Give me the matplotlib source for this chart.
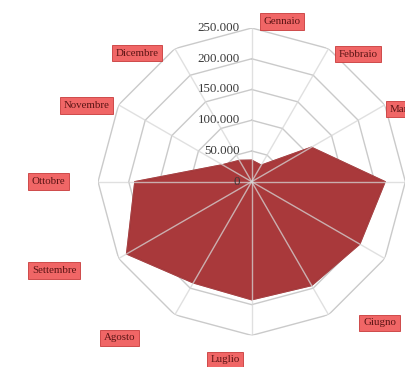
import numpy as np
import matplotlib
matplotlib.use("Agg")
import matplotlib.pyplot as plt
from matplotlib.transforms import offset_copy

# Monthly totals (thousands)
months = ["Gennaio", "Febbraio", "Marzo", "Aprile", "Maggio", "Giugno",
          "Luglio", "Agosto", "Settembre", "Ottobre", "Novembre", "Dicembre"]
values = [35, 31, 112, 217, 203, 195, 192, 190, 235, 190, 55, 40]

ring_levels = [0, 50, 100, 150, 200, 250]
ring_labels = ["0", "50.000", "100.000", "150.000", "200.000", "250.000"]

# Where each month label sits around the web (angle in degrees, radius)
label_pos = [(10.7, 265), (39.8, 270), (64.5, 274), (90, 330), (116, 370),
             (137.8, 310), (188.5, 293), (220.3, 333), (245.7, 352),
             (270, 331), (294.8, 296), (318.3, 280)]

serif = ["Liberation Serif", "DejaVu Serif"]

fig = plt.figure(figsize=(4.06, 3.67), dpi=100)
fig.patch.set_facecolor("white")
ax = fig.add_axes([0.2414, 0.0861, 0.7571, 0.8376], projection="polar")
ax.set_theta_zero_location("N")
ax.set_theta_direction(-1)
ax.set_ylim(0, 250)
ax.grid(False)
ax.set_xticks([])
ax.set_yticks([])
ax.spines["polar"].set_visible(False)
ax.patch.set_alpha(0)

n = len(months)
theta = np.arange(n) * 2 * np.pi / n
theta_c = np.append(theta, theta[0])

# Polygonal rings
for lev in ring_levels[1:]:
    ax.plot(theta_c, [lev] * (n + 1), color="#cacaca", lw=1.0, zorder=1)

# Filled series
vals_c = np.append(values, values[0])
ax.fill(theta_c, vals_c, facecolor="#a9393b", edgecolor="#8c2a2c",
        lw=1.0, zorder=2)
ax.plot(theta_c, vals_c, color="#c25456", lw=0.8, alpha=0.6, zorder=3)

# Spokes
for t in theta:
    ax.plot([t, t], [0, 250], color="#d6d6d6", lw=1.0, alpha=0.75, zorder=4)

# Value axis labels along the first spoke
tick_tr = offset_copy(ax.transData, fig=fig, x=-12, y=0, units="dots")
for lev, lab in zip(ring_levels, ring_labels):
    ax.text(0, lev, lab, transform=tick_tr, ha="right", va="center",
            fontsize=9.4, family=serif, color="#3a3a3a", zorder=5)

# Month labels in boxes
for name, (ang, rad) in zip(months, label_pos):
    ax.text(np.deg2rad(ang), rad, name, ha="center", va="center",
            fontsize=7.8, family=serif, color="#5a1414", zorder=6,
            clip_on=False,
            bbox=dict(boxstyle="square,pad=0.35", facecolor="#f06666",
                      edgecolor="#c83a3a", lw=0.6))

fig.savefig("out.png", dpi=100)
